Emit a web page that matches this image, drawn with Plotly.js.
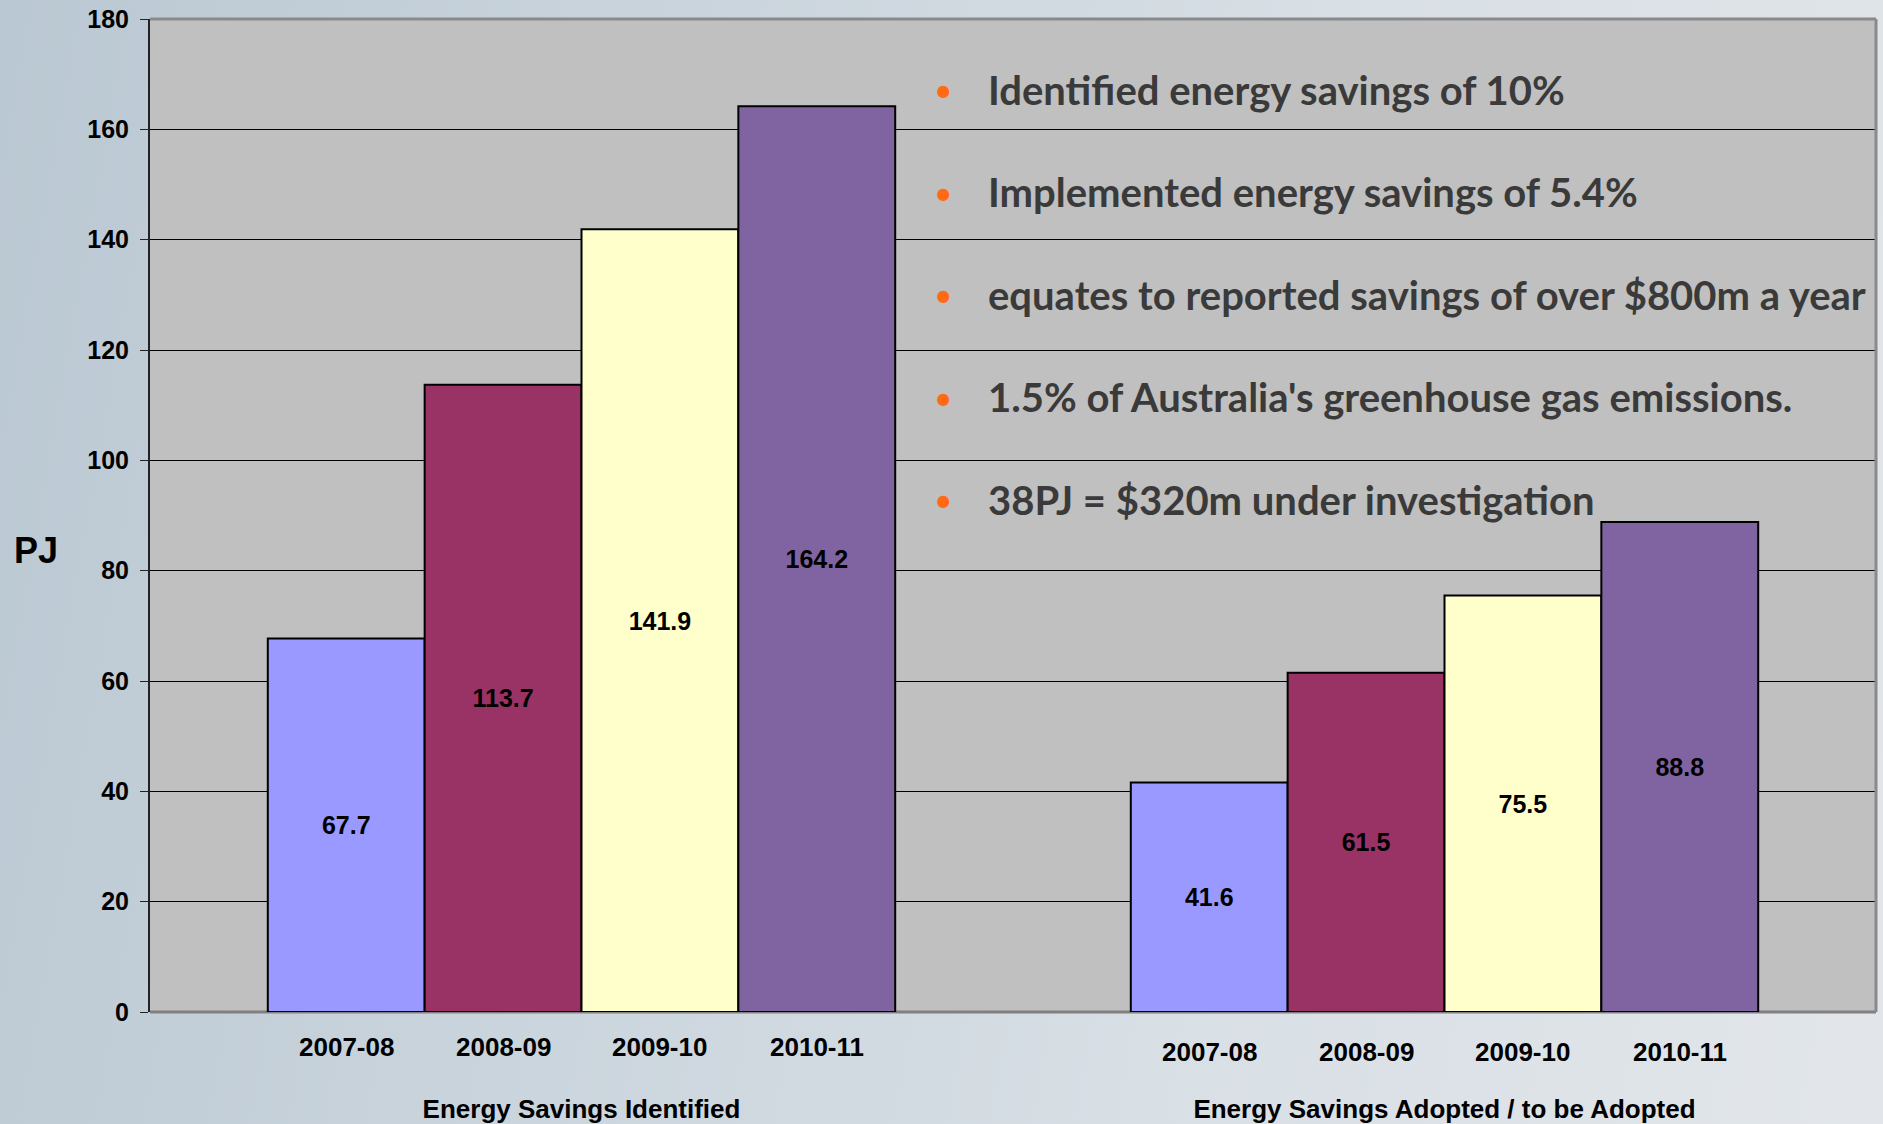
<!DOCTYPE html>
<html>
<head>
<meta charset="utf-8">
<script src="https://cdn.plot.ly/plotly-3.0.1.min.js"></script>
<style>
  html, body { margin: 0; padding: 0; }
  body {
    width: 1883px; height: 1124px; overflow: hidden;
    background: linear-gradient(100deg, #bac8d3 0%, #cbd5dd 35%, #d8dfe5 65%, #e2e6ea 100%);
  }
  #chart { width: 1883px; height: 1124px; }
</style>
</head>
<body>
<div id="chart"></div>
<script>
// ---- data ----
const groups = ["Energy Savings Identified", "Energy Savings Adopted / to be Adopted"];
const years = ["2007-08", "2008-09", "2009-10", "2010-11"];
const val2007 = [67.7, 41.6];
const val2008 = [113.7, 61.5];
const val2009 = [141.9, 75.5];
const val2010 = [164.2, 88.8];
const seriesValues = [val2007, val2008, val2009, val2010];
const seriesColors = ["#9999FF", "#993366", "#FFFFCC", "#8064A2"];
const bullets = [
  "Identified energy savings of 10%",
  "Implemented energy savings of 5.4%",
  "equates to reported savings of over $800m a year",
  "1.5% of Australia's greenhouse gas emissions.",
  "38PJ = $320m under investigation"
];
const yTicks = [0, 20, 40, 60, 80, 100, 120, 140, 160, 180];

// ---- layout parameters ----
const bargap = 0.273;
const FONT = "'Liberation Sans', Arial, sans-serif";

const traces = seriesValues.map((vals, i) => ({
  type: "bar",
  name: years[i],
  x: groups,
  y: vals,
  text: vals.map(v => v.toFixed(1)),
  textposition: "inside",
  insidetextanchor: "middle",
  textangle: 0,
  textfont: { family: FONT, size: 25, weight: "bold", color: "#000" },
  marker: { color: seriesColors[i], line: { color: "#000", width: 2 } },
  hoverinfo: "skip"
}));

const annotations = [];
// year labels under each bar
const barW = (1 - bargap) / years.length;
groups.forEach((g, gi) => {
  years.forEach((yr, i) => {
    annotations.push({
      xref: "x", yref: "paper",
      x: gi + (i - (years.length - 1) / 2) * barW,
      y: 0, yanchor: "middle", yshift: -35 - gi * 5,
      text: yr, showarrow: false,
      font: { family: FONT, size: 26, weight: "bold", color: "#000" }
    });
  });
});
// y axis title "PJ"
annotations.push({
  xref: "paper", yref: "paper", x: -0.066, y: 0.465,
  xanchor: "center", yanchor: "middle",
  text: "PJ", showarrow: false,
  font: { family: FONT, size: 36, weight: "bold", color: "#000" }
});
// bullet texts
const bulletY0 = 0.9285, bulletStep = 0.1032;
bullets.forEach((b, i) => {
  const yy = bulletY0 - i * bulletStep;
  annotations.push({
    xref: "paper", yref: "paper", x: 0.46, y: yy,
    xanchor: "center", yanchor: "middle",
    text: "•", showarrow: false,
    font: { family: "Lato, 'Open Sans', sans-serif", size: 32, color: "#FF6A13" }
  });
  annotations.push({
    xref: "paper", yref: "paper", x: 0.4845, y: yy,
    xanchor: "left", yanchor: "middle",
    text: b, showarrow: false,
    font: { family: "Lato, 'Open Sans', sans-serif", size: 40, weight: "bold", color: "#3a3a3a" }
  });
});

const layout = {
  width: 1883, height: 1124,
  margin: { l: 150, r: 7, t: 19, b: 112 },
  paper_bgcolor: "rgba(0,0,0,0)",
  plot_bgcolor: "#C0C0C0",
  barmode: "group",
  bargap: bargap,
  bargroupgap: 0,
  showlegend: false,
  xaxis: {
    type: "category",
    range: [-0.5, 1.5],
    showgrid: false, zeroline: false,
    showline: false,
    ticks: "",
    ticklabelstandoff: 79,
    tickfont: { family: FONT, size: 26, weight: "bold", color: "#000" }
  },
  yaxis: {
    range: [0, 180],
    tickvals: yTicks,
    showgrid: true, gridcolor: "#000", gridwidth: 1,
    zeroline: false,
    showline: true, linecolor: "#222", linewidth: 2,
    ticks: "outside", ticklen: 8, tickcolor: "#222", tickwidth: 1,
    ticklabelstandoff: 6,
    tickfont: { family: FONT, size: 25, weight: "bold", color: "#000" }
  },
  shapes: [
    { type: "line", xref: "paper", yref: "paper", x0: 0, x1: 1, y0: 1, y1: 1, layer: "above", line: { color: "#8a8a8a", width: 3 } },
    { type: "line", xref: "paper", yref: "paper", x0: 1, x1: 1, y0: 0, y1: 1, layer: "above", line: { color: "#8a8a8a", width: 3 } },
    { type: "line", xref: "paper", yref: "paper", x0: 0, x1: 1, y0: 0, y1: 0, layer: "below", line: { color: "#808080", width: 3 } }
  ],
  annotations: annotations
};

Plotly.newPlot("chart", traces, layout, { displayModeBar: false, staticPlot: true });
</script>
</body>
</html>
